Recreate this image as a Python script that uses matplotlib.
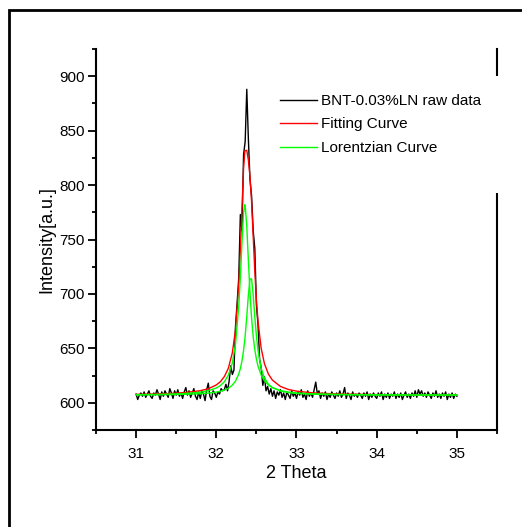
import numpy as np
import matplotlib
matplotlib.use("Agg")
import matplotlib.pyplot as plt
from matplotlib.patches import Rectangle
from matplotlib.ticker import MultipleLocator

# raw XRD data, 2theta 31.00 -> 35.00, step 0.02
raw_y = [
    608, 603, 607, 609, 606, 610, 605, 608, 611, 606,
    604, 609, 607, 612, 608, 603, 610, 606, 611, 608,
    605, 613, 609, 604, 611, 607, 612, 606, 609, 604,
    610, 614, 607, 611, 605, 609, 613, 606, 603, 610,
    604, 611, 608, 602, 612, 618, 606, 603, 611, 609,
    605, 610, 608, 613, 611, 612, 617, 611, 620, 634,
    626, 630, 671, 692, 715, 773, 758, 828, 840, 888,
    842, 805, 790, 758, 742, 690, 672, 640, 632, 616,
    624, 611, 615, 608, 613, 606, 611, 604, 610, 607,
    612, 605, 609, 603, 610, 607, 604, 611, 606, 609,
    604, 610, 607, 612, 605, 608, 603, 611, 606, 609,
    605, 612, 619, 608, 611, 604, 609, 606, 610, 603,
    608, 605, 610, 607, 604, 609, 606, 611, 605, 608,
    614, 604, 609, 607, 603, 610, 606, 608, 605, 609,
    607, 604, 609, 606, 610, 603, 608, 605, 609, 606,
    604, 609, 606, 610, 603, 608, 605, 609, 604, 608,
    606, 610, 604, 608, 605, 609, 603, 607, 610, 605,
    608, 604, 609, 606, 611, 605, 612, 608, 611, 606,
    609, 605, 610, 607, 604, 609, 606, 611, 605, 608,
    604, 609, 606, 610, 603, 608, 605, 609, 604, 608, 606,
]
raw_x = np.linspace(31.0, 35.0, len(raw_y))

# fitted curves
fit_x = [31.0, 31.2, 31.4, 31.6, 31.8, 31.9, 32.0, 32.05, 32.1, 32.15,
         32.2, 32.24, 32.28, 32.30, 32.32, 32.34, 32.355, 32.36, 32.38, 32.40,
         32.42, 32.44, 32.46, 32.48, 32.50, 32.52, 32.56, 32.60, 32.65, 32.70,
         32.8, 32.9, 33.0, 33.2, 33.5, 34.0, 34.5, 35.0]
fit_y = [607.7, 608.0, 608.4, 609.3, 611.1, 612.9, 616.4, 619.3, 624.0, 631.7,
         645.9, 667.3, 708.0, 739.7, 778.4, 815.4, 830.5, 831.6, 832.0, 822.9,
         807.8, 784.5, 752.9, 721.0, 694.6, 674.8, 649.8, 636.0, 626.3, 620.8,
         615.0, 612.2, 610.7, 609.1, 608.1, 607.5, 607.3, 607.2]
lor1_y = [607.5, 607.6, 607.9, 608.5, 609.7, 611.1, 613.6, 615.8, 619.3, 625.3,
          636.6, 654.3, 688.5, 715.2, 747.0, 774.3, 782.0, 781.1, 762.2, 730.8,
          701.0, 677.7, 660.8, 648.8, 640.1, 633.7, 625.3, 620.2, 616.3, 613.9,
          611.2, 609.8, 609.0, 608.2, 607.7, 607.3, 607.2, 607.1]
lor2_y = [607.3, 607.4, 607.5, 607.8, 608.3, 608.9, 609.8, 610.6, 611.7, 613.4,
          616.2, 620.0, 626.5, 631.5, 638.4, 648.1, 657.7, 661.5, 679.2, 699.1,
          713.8, 713.8, 699.1, 679.2, 661.5, 648.1, 631.5, 622.8, 617.0, 613.9,
          610.8, 609.4, 608.6, 607.9, 607.5, 607.2, 607.1, 607.1]

labels = ["BNT-0.03%LN raw data", "Fitting Curve", "Lorentzian Curve"]

plt.rcParams["font.family"] = ["Liberation Sans", "DejaVu Sans"]

fig = plt.figure(figsize=(5.22, 5.27), dpi=100)
top = 1 - 10 / 527
fig.patches.append(Rectangle((9 / 522, -0.2), 1.2, top + 0.2,
                             transform=fig.transFigure, fill=False,
                             edgecolor="black", linewidth=2))

ax = fig.add_axes([96 / 522, 1 - 430 / 527, 401 / 522, 381 / 527])
ax.plot(raw_x, raw_y, color="black", lw=1.0, label=labels[0])
ax.plot(fit_x, fit_y, color="#ff0000", lw=1.0, label=labels[1])
ax.plot(fit_x, lor1_y, color="#00ff00", lw=1.0, label=labels[2])
ax.plot(fit_x, lor2_y, color="#00ff00", lw=1.0)

ax.set_xlim(30.5, 35.5)
ax.set_ylim(575, 925)
ax.xaxis.set_major_locator(MultipleLocator(1))
ax.xaxis.set_minor_locator(MultipleLocator(0.5))
ax.yaxis.set_major_locator(MultipleLocator(50))
ax.yaxis.set_minor_locator(MultipleLocator(25))
ax.tick_params(which="both", direction="out", width=1.3, labelsize=11,
               top=False, right=False)
ax.tick_params(which="major", length=6)
ax.tick_params(which="minor", length=3)
ax.tick_params(axis="x", pad=6)
ax.tick_params(axis="y", pad=2)
ax.spines["top"].set_visible(False)
for s in ["left", "bottom", "right"]:
    ax.spines[s].set_linewidth(1.5)

ax.set_xlabel("2 Theta", fontsize=13, labelpad=3)
ax.set_ylabel("Intensity[a.u.]", fontsize=13, labelpad=3)

# white block behind the legend (hides part of the right axis line)
ax.add_patch(Rectangle((0.45, 0.622), 0.65, 0.307, transform=ax.transAxes,
                       facecolor="white", edgecolor="none", clip_on=False,
                       zorder=5))
leg = ax.legend(loc="upper left", bbox_to_anchor=(0.459, 0.882),
                frameon=False, fontsize=11, handlelength=2.4,
                handletextpad=0.3, labelspacing=0.62, borderpad=0,
                borderaxespad=0)
leg.set_zorder(6)

fig.savefig("out.png", dpi=100)
